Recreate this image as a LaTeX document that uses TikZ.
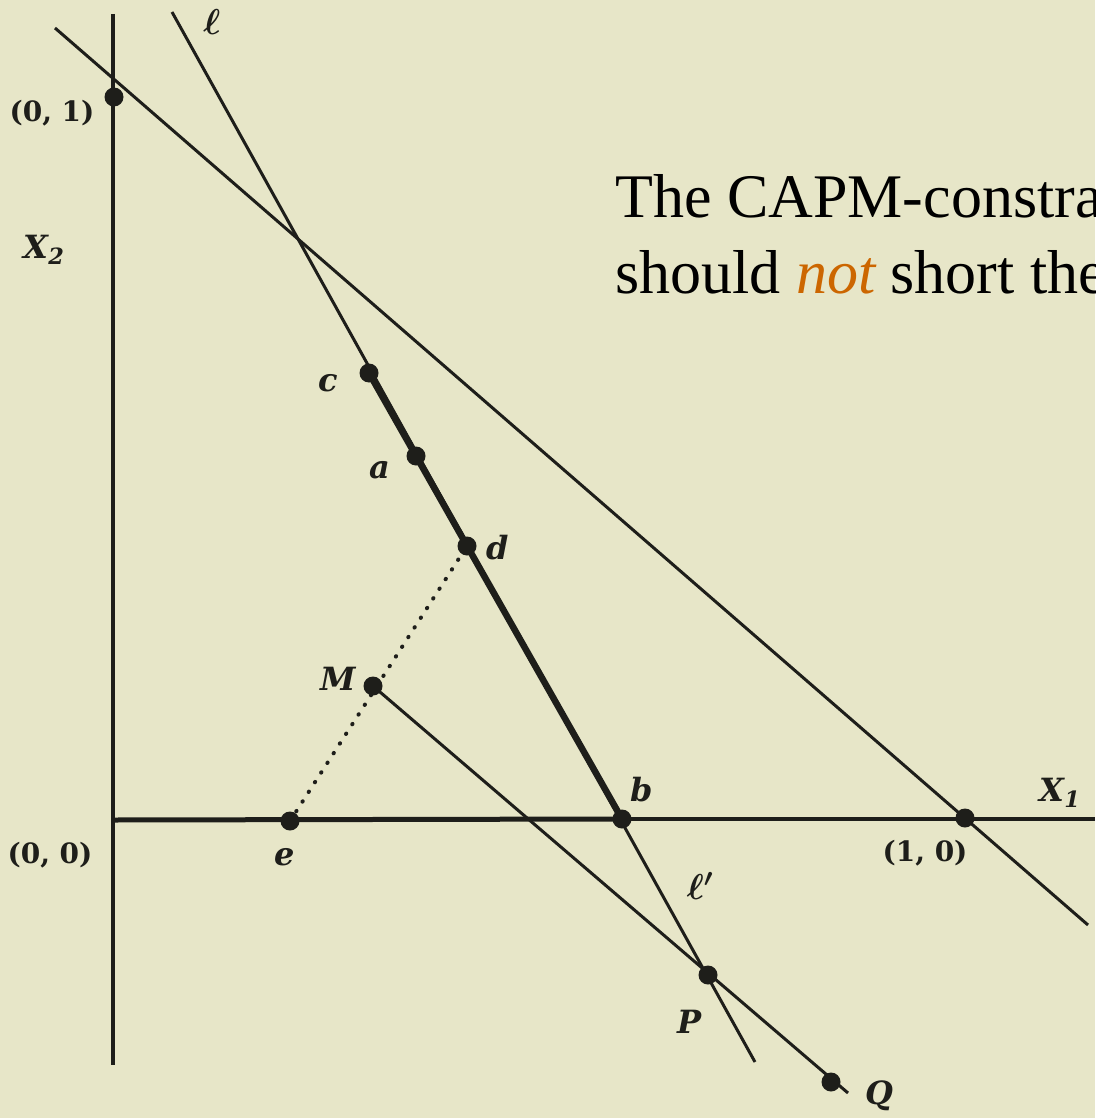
\RequirePackage{fix-cm}
\documentclass[tikz,border=0pt]{standalone}
\usepackage{fontspec}
\setmainfont{Liberation Serif}
\newfontfamily\lblfont{DejaVu Serif}
\definecolor{paper}{RGB}{231,230,200}
\definecolor{ink}{RGB}{30,30,26}
\definecolor{notorange}{RGB}{204,102,0}

\begin{document}
\begin{tikzpicture}[x=1pt,y=-1pt,
  dot/.style={circle,fill=ink,inner sep=0pt,minimum size=19pt},
  thin/.style={draw=ink,line width=3pt},
  lbl/.style={text=ink,font=\fontsize{32}{32}\selectfont\lblfont\bfseries\itshape},
  elllbl/.style={text=ink,font=\fontsize{36}{36}\selectfont\boldmath},
  num/.style={text=ink,font=\fontsize{28}{28}\selectfont\lblfont\bfseries}]
\useasboundingbox (0,0) rectangle (1095,1118);
\fill[paper] (0,0) rectangle (1095,1118);
\clip (0,0) rectangle (1095,1118);

% points
\coordinate (o) at (113,820);
\coordinate (ytop) at (113,14);
\coordinate (ybot) at (113,1065);
\coordinate (xend) at (1095,819);
\coordinate (p01) at (114,97);
\coordinate (p10) at (965,818);
\coordinate (c) at (369,373);
\coordinate (a) at (416,456);
\coordinate (d) at (467,546);
\coordinate (M) at (373,686);
\coordinate (e) at (290,821);
\coordinate (b) at (622,819);
\coordinate (P) at (708,975);
\coordinate (Q) at (831,1082);
\coordinate (ltop) at (172,12);
\coordinate (lbot) at (755,1062);
\coordinate (btop) at (55,28);
\coordinate (bbot) at (1088,925);
\coordinate (qend) at (848,1093);

% axes
\draw[ink,line width=3.5pt] (ytop) -- (ybot);
\draw[ink,line width=5pt] (o) -- (b);
\draw[ink,line width=3.5pt] (b) -- (xend);

% lines
\draw[thin] (btop) -- (bbot);
\draw[thin] (ltop) -- (lbot);
\draw[ink,line width=6.5pt] (c) -- (b);
\draw[thin] (M) -- (qend);
\draw[ink,line width=4pt,line cap=round,dash pattern=on 0.5pt off 11pt] (e) -- (d);

% dots
\foreach \p in {p01,p10,c,a,d,M,e,b,P,Q}
  \node[dot] (\p dot) at (\p) {};

% labels
\node[num] (l01) at (52,113) {(0, 1)};
\node[num] (l00) at (50,855) {(0, 0)};
\node[num] (l10) at (925,853) {(1, 0)};
\node[lbl] (lx2) at (44,250) {X\textsubscript{2}};
\node[lbl] (lx1) at (1060,793) {X\textsubscript{1}};
\node[elllbl] (lell) at (212,22) {$\ell$};
\node[elllbl] (lellp) at (700,886) {$\ell'$};
\node[lbl] (lc) at (328,383) {c};
\node[lbl] (la) at (380,470) {a};
\node[lbl] (ld) at (498,548) {d};
\node[lbl] (lM) at (338,679) {M};
\node[lbl] (le) at (285,857) {e};
\node[lbl] (lb) at (642,790) {b};
\node[lbl] (lP) at (690,1022) {P};
\node[lbl] (lQ) at (879,1096) {Q};

% text
\node[anchor=base west,align=left,inner sep=0pt,
      font=\fontsize{62}{76}\selectfont] (note) at (615,293)
  {The CAPM-constrai\\should {\color{notorange}\itshape not} short the};
\end{tikzpicture}
\end{document}
